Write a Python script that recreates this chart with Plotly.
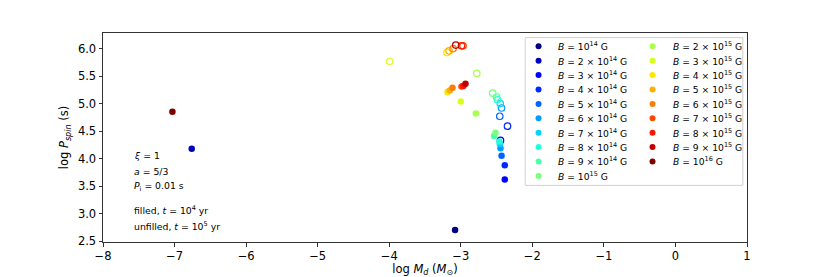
import plotly.graph_objects as go

# ---- data ----
b_labels = [
    "<i>B</i> = 10<sup>14</sup> G",
    "<i>B</i> = 2 × 10<sup>14</sup> G",
    "<i>B</i> = 3 × 10<sup>14</sup> G",
    "<i>B</i> = 4 × 10<sup>14</sup> G",
    "<i>B</i> = 5 × 10<sup>14</sup> G",
    "<i>B</i> = 6 × 10<sup>14</sup> G",
    "<i>B</i> = 7 × 10<sup>14</sup> G",
    "<i>B</i> = 8 × 10<sup>14</sup> G",
    "<i>B</i> = 9 × 10<sup>14</sup> G",
    "<i>B</i> = 10<sup>15</sup> G",
    "<i>B</i> = 2 × 10<sup>15</sup> G",
    "<i>B</i> = 3 × 10<sup>15</sup> G",
    "<i>B</i> = 4 × 10<sup>15</sup> G",
    "<i>B</i> = 5 × 10<sup>15</sup> G",
    "<i>B</i> = 6 × 10<sup>15</sup> G",
    "<i>B</i> = 7 × 10<sup>15</sup> G",
    "<i>B</i> = 8 × 10<sup>15</sup> G",
    "<i>B</i> = 9 × 10<sup>15</sup> G",
    "<i>B</i> = 10<sup>16</sup> G",
]

# t = 1e4 yr (filled)
logmd_t4 = [-3.08, -6.76, -2.385, -2.385, -2.43, -2.445, -2.455, -2.46, -2.535, -2.515,
            -2.79, -3.00, -3.186, -3.155, -3.116, -2.99, -2.965, -2.934, -7.03]
logp_t4 = [2.70, 4.18, 3.62, 3.88, 4.05, 4.19, 4.27, 4.31, 4.41, 4.47,
           4.82, 5.04, 5.21, 5.24, 5.29, 5.31, 5.32, 5.36, 4.85]

# t = 1e5 yr (unfilled)
logmd_t5 = [None, None, -2.445, -2.347, -2.455, -2.43, -2.448, -2.487, -2.50, -2.553,
            -2.776, -3.993, -3.192, -3.164, -3.108, -2.968, -2.99, -3.07, None]
logp_t5 = [None, None, 4.33, 4.59, 4.77, 4.92, 5.00, 5.07, 5.12, 5.19,
           5.55, 5.77, 5.93, 5.96, 6.00, 6.05, 6.05, 6.065, None]

x_ticks = [-8, -7, -6, -5, -4, -3, -2, -1, 0, 1]
y_ticks = [2.5, 3.0, 3.5, 4.0, 4.5, 5.0, 5.5, 6.0]


# ---- jet colormap ----
def _interp(t, pts):
    for (x0, y0), (x1, y1) in zip(pts[:-1], pts[1:]):
        if x0 <= t <= x1:
            if x1 == x0:
                return y1
            return y0 + (y1 - y0) * (t - x0) / (x1 - x0)
    return pts[-1][1]


def jet(t):
    r = _interp(t, [(0, 0), (0.35, 0), (0.66, 1), (0.89, 1), (1, 0.5)])
    g = _interp(t, [(0, 0), (0.125, 0), (0.375, 1), (0.64, 1), (0.91, 0), (1, 0)])
    b = _interp(t, [(0, 0.5), (0.11, 1), (0.34, 1), (0.65, 0), (1, 0)])
    return "rgb(%d,%d,%d)" % (round(r * 255), round(g * 255), round(b * 255))


n = len(b_labels)
colors = [jet(i / (n - 1)) for i in range(n)]

FONT = "DejaVu Sans"
fig = go.Figure()

for i in range(n):
    fig.add_trace(go.Scatter(
        x=[logmd_t4[i]], y=[logp_t4[i]], mode="markers",
        marker=dict(size=6.5, color=colors[i], line=dict(width=0)),
        showlegend=False, hoverinfo="skip"))
    if logmd_t5[i] is not None:
        fig.add_trace(go.Scatter(
            x=[logmd_t5[i]], y=[logp_t5[i]], mode="markers",
            marker=dict(size=6.5, symbol="circle-open", color=colors[i],
                        line=dict(width=1.2, color=colors[i])),
            showlegend=False, hoverinfo="skip"))

# ---- manual two-column legend (on an overlay axis in paper units) ----
col_mark_x = [0.6763, 0.8533]
col_text_x = [0.7037, 0.8819]
row_y0 = 0.9364
row_dy = 0.0689
rows_per_col = 10
lx, ly = [], []
annotations = []
for i in range(n):
    c = i // rows_per_col
    r = i % rows_per_col
    yy = row_y0 - r * row_dy
    lx.append(col_mark_x[c])
    ly.append(yy)
    annotations.append(dict(
        x=col_text_x[c], y=yy, xref="paper", yref="paper", text=b_labels[i],
        showarrow=False, xanchor="left", yanchor="middle",
        font=dict(family=FONT, size=9.2, color="black")))

fig.add_trace(go.Scatter(
    x=lx, y=ly, mode="markers", xaxis="x2", yaxis="y2",
    marker=dict(size=6, color=colors, line=dict(width=0)),
    showlegend=False, hoverinfo="skip"))

# left side notes
notes = [
    ("<i>ξ</i> = 1", 0.4115),
    ("<i>a</i> = 5/3", 0.3383),
    ("<i>P</i><sub>i</sub> = 0.01 s", 0.2632),
    ("filled, <i>t</i> = 10<sup>4</sup> yr", 0.1517),
    ("unfilled, <i>t</i> = 10<sup>5</sup> yr", 0.0751),
]
for txt, yy in notes:
    annotations.append(dict(
        x=0.0446, y=yy, xref="paper", yref="paper", text=txt, showarrow=False,
        xanchor="left", yanchor="middle",
        font=dict(family=FONT, size=9.3, color="black")))

fig.update_layout(
    width=830, height=277,
    margin=dict(l=103, r=83, t=33, b=35, autoexpand=False),
    paper_bgcolor="white", plot_bgcolor="white",
    font=dict(family=FONT, size=11.5, color="black"),
    showlegend=False,
    annotations=annotations,
    shapes=[dict(type="rect", xref="paper", yref="paper",
                 x0=0.6556, x1=0.9935, y0=0.271, y1=0.978,
                 line=dict(color="#d0d0d0", width=1), fillcolor="rgba(255,255,255,0.8)",
                 layer="below")],
    xaxis=dict(
        range=[-8, 1], tickvals=x_ticks, automargin=False,
        ticktext=[("−" + str(-v)) if v < 0 else str(v) for v in x_ticks],
        showgrid=False, zeroline=False, showline=True, mirror=True,
        linecolor="#333333", linewidth=1, ticks="outside", ticklen=3.5,
        tickcolor="#333333", tickfont=dict(family=FONT, size=11.5),
        title=dict(text="log <i>M<sub>d</sub></i> (<i>M</i><sub>⊙</sub>)",
                   font=dict(family=FONT, size=11.5), standoff=4)),
    yaxis=dict(
        range=[2.484, 6.284], tickvals=y_ticks, automargin=False,
        ticktext=["%.1f" % v for v in y_ticks],
        showgrid=False, zeroline=False, showline=True, mirror=True,
        linecolor="#333333", linewidth=1, ticks="outside", ticklen=3.5,
        tickcolor="#333333", tickfont=dict(family=FONT, size=11.5),
        title=dict(text="log <i>P<sub>spin</sub></i> (s)",
                   font=dict(family=FONT, size=11.5), standoff=6)),
    xaxis2=dict(range=[0, 1], domain=[0, 1], overlaying="x", visible=False,
                fixedrange=True, automargin=False),
    yaxis2=dict(range=[0, 1], domain=[0, 1], overlaying="y", visible=False,
                fixedrange=True, anchor="x2", automargin=False),
)

fig.write_html("out.html",
               config={"displayModeBar": False, "staticPlot": True},
               post_script="document.body.style.margin='0';"
                           "document.body.style.padding='0';"
                           "document.body.style.overflow='hidden';")
